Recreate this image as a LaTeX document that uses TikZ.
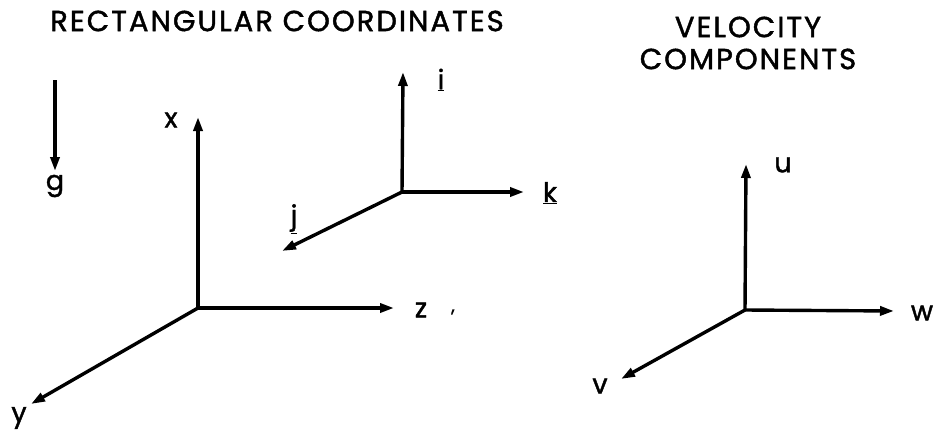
\documentclass[tikz,border=0pt]{standalone}
\usepackage{fontspec}
\setmainfont{Poppins}[FakeBold=1.5,AutoFakeBold=1.5]
\newfontfamily\ttlfont{Poppins}[FakeBold=1.5,LetterSpace=7]
\usetikzlibrary{arrows.meta}
\begin{document}
\begin{tikzpicture}[x=1pt,y=-1pt,
  ax/.style={line width=3.4pt,-{Triangle[length=14pt,width=9pt]}},
  lbl/.style={inner sep=0pt,font=\fontsize{27}{27}\selectfont},
  ttl/.style={inner sep=0pt,font=\ttlfont\fontsize{29}{32}\selectfont,align=center}]
\useasboundingbox (0,0) rectangle (936,436);
% titles
\node[ttl] (t1) at (277,21) {RECTANGULAR\ COORDINATES};
\node[ttl] (t2) at (748,43) {VELOCITY\\COMPONENTS};
% gravity
\coordinate (g0) at (55,80);
\coordinate (g1) at (55,171);
\draw[ax] (g0) -- (g1);
\node[lbl] (g) at (55,186) {g};
% main axes
\coordinate (O) at (198,308);
\coordinate (X) at (198,117);
\coordinate (Z) at (394,308);
\coordinate (Y) at (31,404);
\draw[ax] (O) -- (X);
\draw[ax] (O) -- (Z);
\draw[ax] (O) -- (Y);
\node[lbl] (xl) at (171,120) {x};
\node[lbl] (zl) at (421,310) {z};
\node[lbl,font=\fontsize{18}{18}\selectfont] (cm) at (453,312) {,};
\node[lbl] (yl) at (19,418) {y};
% unit vectors
\coordinate (O2) at (402,192);
\coordinate (I) at (403,72);
\coordinate (K) at (524,192);
\coordinate (J) at (282,251);
\draw[ax] (O2) -- (I);
\draw[ax] (O2) -- (K);
\draw[ax] (O2) -- (J);
\node[lbl] (il) at (441,80) {\underline{i}};
\node[lbl] (kl) at (550,193) {\underline{k}};
\node[lbl] (jl) at (294,219) {\underline{j}};
% velocity components
\coordinate (O3) at (745,310);
\coordinate (U) at (746,164);
\coordinate (W) at (894,311);
\coordinate (V) at (621,379);
\draw[ax] (O3) -- (U);
\draw[ax] (O3) -- (W);
\draw[ax] (O3) -- (V);
\node[lbl] (ul) at (783,165) {u};
\node[lbl] (wl) at (922,313) {w};
\node[lbl] (vl) at (600,386) {v};
\end{tikzpicture}
\end{document}
